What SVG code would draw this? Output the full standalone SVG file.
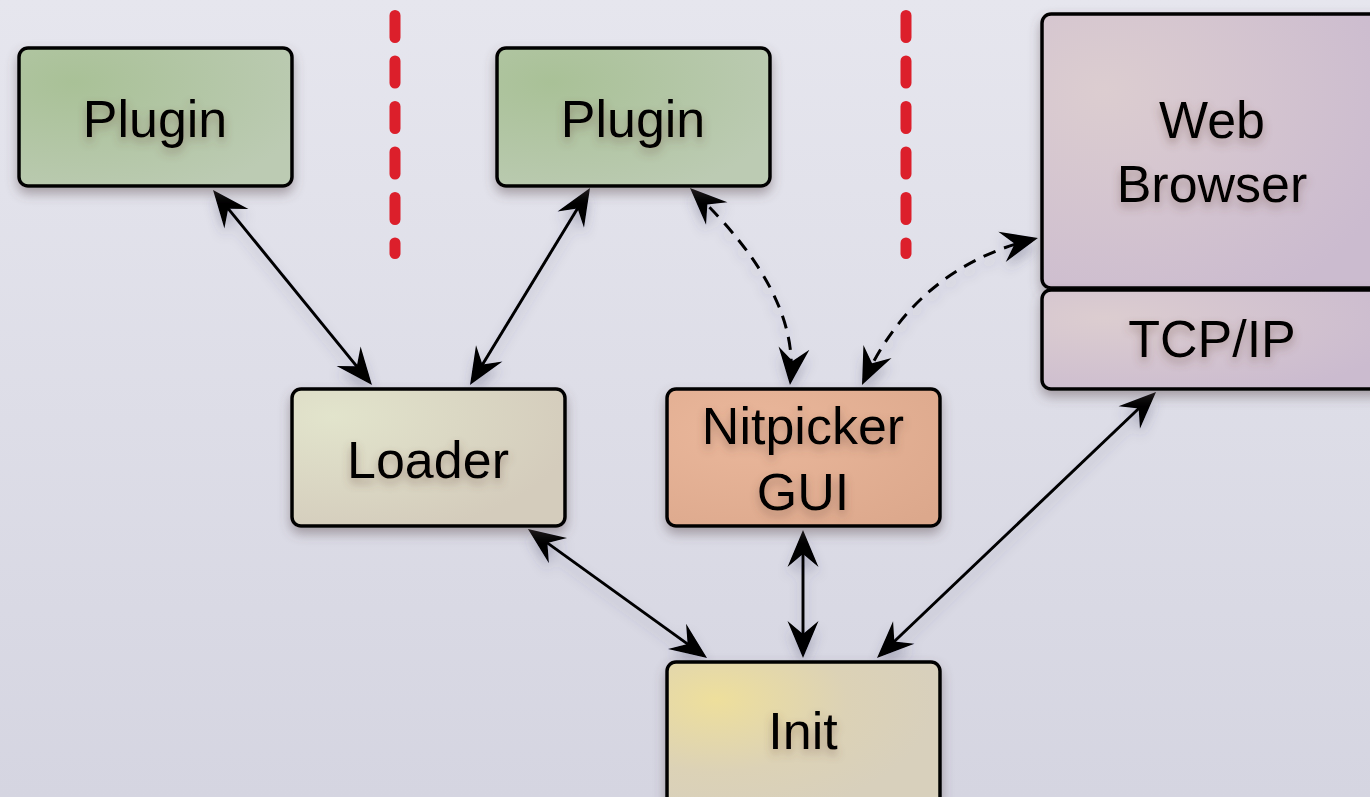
<svg xmlns="http://www.w3.org/2000/svg" width="1370" height="797" viewBox="0 0 1370 797">
<defs>
<linearGradient id="bg" x1="0" y1="0" x2="0" y2="1">
<stop offset="0" stop-color="#e6e6ee"/>
<stop offset="1" stop-color="#d5d5e1"/>
</linearGradient>
<radialGradient id="gPlugin" cx="0.2" cy="0.25" r="0.9">
<stop offset="0" stop-color="#a9c197"/>
<stop offset="1" stop-color="#bccbb3"/>
</radialGradient>
<radialGradient id="gLoader" cx="0.15" cy="0.2" r="0.9">
<stop offset="0" stop-color="#e2e4cc"/>
<stop offset="1" stop-color="#d4ccbc"/>
</radialGradient>
<radialGradient id="gNit" cx="0.3" cy="0.3" r="0.9">
<stop offset="0" stop-color="#eab79b"/>
<stop offset="1" stop-color="#dca88c"/>
</radialGradient>
<radialGradient id="gInit" cx="0.18" cy="0.25" r="0.8">
<stop offset="0" stop-color="#eedf9c"/>
<stop offset="0.6" stop-color="#dcd2b6"/>
<stop offset="1" stop-color="#d8d0bc"/>
</radialGradient>
<radialGradient id="gWeb" cx="0.18" cy="0.28" r="0.9">
<stop offset="0" stop-color="#dccdd0"/>
<stop offset="1" stop-color="#cbbbcf"/>
</radialGradient>
<filter id="shadow" x="-20%" y="-20%" width="140%" height="150%">
<feDropShadow dx="0" dy="6" stdDeviation="6" flood-color="#5a4a50" flood-opacity="0.45"/>
</filter>
<filter id="tshadow" x="-20%" y="-30%" width="140%" height="170%">
<feDropShadow dx="0" dy="5" stdDeviation="5" flood-color="#6a4a40" flood-opacity="0.45"/>
</filter>
<filter id="lshadow" x="-20%" y="-20%" width="140%" height="140%">
<feDropShadow dx="0" dy="8" stdDeviation="6" flood-color="#404060" flood-opacity="0.3"/>
</filter>
<marker id="ah" viewBox="-40 -18 40 36" markerWidth="40" markerHeight="36" refX="-5" refY="0" markerUnits="userSpaceOnUse" orient="auto-start-reverse">
<path d="M0,0 L-37,-15.5 L-24,0 L-37,15.5 Z" fill="#000" stroke="none"/>
</marker>
<style>
.box{stroke:#000;stroke-width:3.5}
.lbl{font-family:"Liberation Sans",Arial,Helvetica,sans-serif;font-size:52px;fill:#000;text-anchor:middle}
.conn{fill:none;stroke:#000;stroke-width:3;marker-start:url(#ah);marker-end:url(#ah)}
.dash{stroke-dasharray:13 9}
.sep{fill:none;stroke:#dc1f2b;stroke-width:11;stroke-linecap:round;stroke-dasharray:22 23.5}
</style>
</defs>
<rect width="1370" height="797" fill="url(#bg)"/>

<g id="separators">
<line class="sep" x1="395" y1="15.5" x2="395" y2="253.5"/>
<line class="sep" x1="906" y1="15.5" x2="906" y2="253.5"/>
</g>

<g id="connectors" filter="url(#lshadow)">
<path class="conn" d="M216.2,193.9 L368.8,381.1"/>
<path class="conn" d="M587.4,192.3 L472.6,380.7"/>
<path class="conn dash" d="M693.6,191.5 Q800,293 790.5,380"/>
<path class="conn dash" d="M864.1,380.5 Q916,268 1033.1,239.2"/>
<path class="conn" d="M532,531.9 L703,655.1"/>
<path class="conn" d="M803,535 L803,653"/>
<path class="conn" d="M1152.4,395.5 L880.6,654.5"/>
</g>

<g id="plugin1">
<rect class="box" x="19" y="48" width="273" height="138" rx="9" fill="url(#gPlugin)" filter="url(#shadow)"/>
<text class="lbl" x="155" y="137" filter="url(#tshadow)">Plugin</text>
</g>

<g id="plugin2">
<rect class="box" x="497" y="48" width="273" height="138" rx="9" fill="url(#gPlugin)" filter="url(#shadow)"/>
<text class="lbl" x="633" y="137" filter="url(#tshadow)">Plugin</text>
</g>

<g id="loader">
<rect class="box" x="292" y="389" width="273" height="137" rx="9" fill="url(#gLoader)" filter="url(#shadow)"/>
<text class="lbl" x="428" y="478" filter="url(#tshadow)">Loader</text>
</g>

<g id="nitpicker">
<rect class="box" x="667" y="389" width="273" height="137" rx="9" fill="url(#gNit)" filter="url(#shadow)"/>
<text class="lbl" x="803" y="444" filter="url(#tshadow)">Nitpicker</text>
<text class="lbl" x="803" y="510" filter="url(#tshadow)">GUI</text>
</g>

<g id="init">
<rect class="box" x="667" y="662" width="273" height="150" rx="9" fill="url(#gInit)" filter="url(#shadow)"/>
<text class="lbl" x="803" y="749" filter="url(#tshadow)">Init</text>
</g>

<g id="webbrowser">
<rect class="box" x="1042" y="14" width="345" height="274" rx="9" fill="url(#gWeb)" filter="url(#shadow)"/>
<text class="lbl" x="1212" y="138" filter="url(#tshadow)">Web</text>
<text class="lbl" x="1212" y="202" filter="url(#tshadow)">Browser</text>
</g>

<g id="tcpip">
<rect class="box" x="1042" y="290" width="345" height="99" rx="9" fill="url(#gWeb)" filter="url(#shadow)"/>
<text class="lbl" x="1212" y="357" filter="url(#tshadow)">TCP/IP</text>
</g>
</svg>
